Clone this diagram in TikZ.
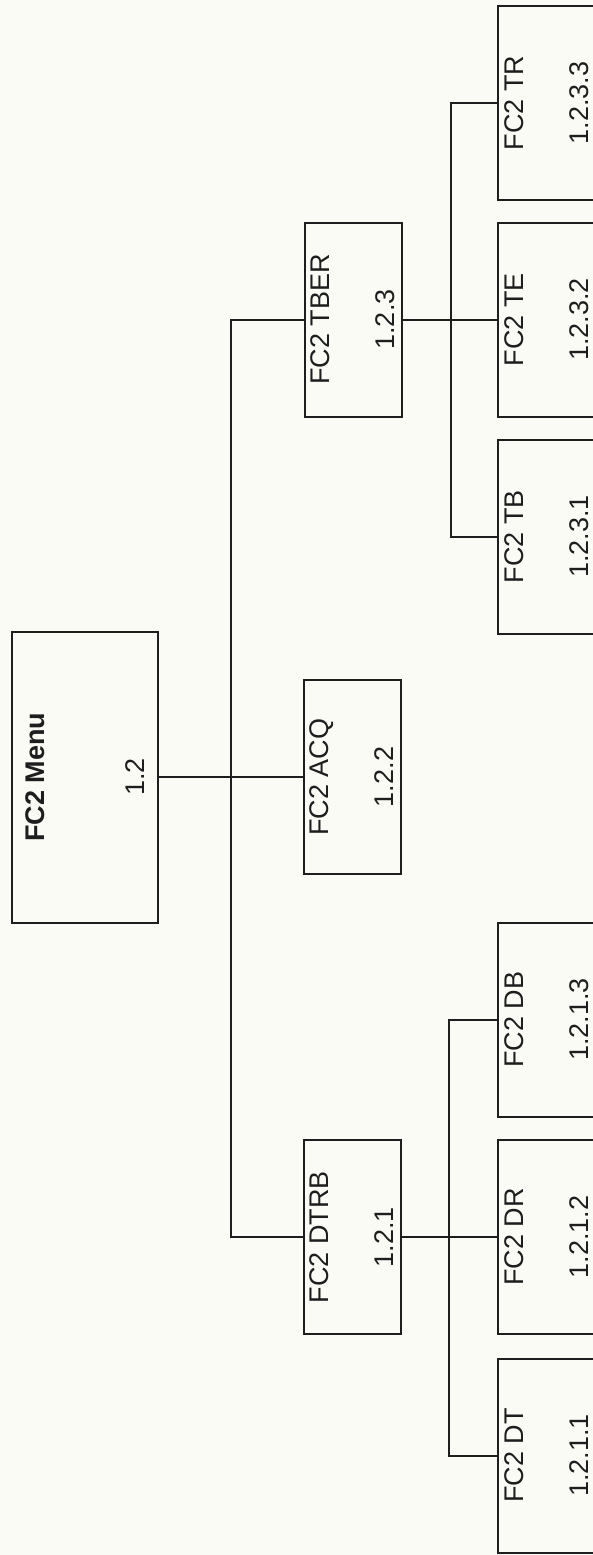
\documentclass[tikz,border=0pt]{standalone}
\usepackage{fontspec}
\setmainfont{Liberation Sans}
\definecolor{paper}{RGB}{251,251,245}
\definecolor{ink}{RGB}{30,30,30}

\begin{document}
\begin{tikzpicture}[x=1pt,y=-1pt,
	box/.style={draw=ink,line width=2pt,rotate=90,inner sep=0pt,align=center,text=ink,
		minimum width=194pt,minimum height=97pt,font=\fontsize{27}{65}\selectfont},
	topbox/.style={box,minimum width=291pt,minimum height=146pt,font=\fontsize{27}{100}\selectfont},
	link/.style={draw=ink,line width=2pt}]
		\clip (0,0) rectangle (593,1555);
		\fill[paper] (0,0) rectangle (593,1555);
		% top of the tree
		\node[topbox] (menu) at (85,777) {\textbf{FC2 Menu}\\1.2};
		\node[box] (tber) at (353,319.5) {FC2 TBER\\1.2.3};
		\node[box] (acq) at (352,777) {FC2 ACQ\\1.2.2};
		\node[box] (dtrb) at (352,1237) {FC2 DTRB\\1.2.1};
		% leaves
		\node[box] (tr) at (546.5,103) {FC2 TR\\1.2.3.3};
		\node[box] (te) at (546.5,319.5) {FC2 TE\\1.2.3.2};
		\node[box] (tb) at (546.5,536.5) {FC2 TB\\1.2.3.1};
		\node[box] (db) at (546.5,1019.5) {FC2 DB\\1.2.1.3};
		\node[box] (dr) at (546.5,1237) {FC2 DR\\1.2.1.2};
		\node[box] (dt) at (546.5,1455.5) {FC2 DT\\1.2.1.1};
		% connectors
		\coordinate (jm) at (231,777);
		\coordinate (jt) at (451,319.5);
		\coordinate (jd) at (449,1237);
		\draw[link] (menu.south) -- (acq.north);
		\draw[link] (tber.north) -| (jm) |- (dtrb.north);
		\draw[link] (tber.south) -- (te.north);
		\draw[link] (tr.north) -| (jt) |- (tb.north);
		\draw[link] (dtrb.south) -- (dr.north);
		\draw[link] (db.north) -| (jd) |- (dt.north);
	\end{tikzpicture}
\end{document}
